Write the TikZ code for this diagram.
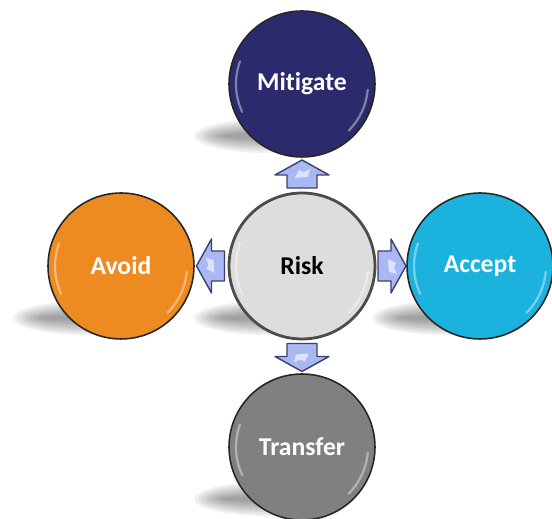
\documentclass[tikz,border=0pt]{standalone}
\usepackage{fontspec}
\setmainfont[Ligatures=NoCommon]{Carlito}
\usetikzlibrary{calc}

\definecolor{mitblue}{HTML}{2B2A6C}
\definecolor{avdorange}{HTML}{EE8A22}
\definecolor{accblue}{HTML}{1CB2DE}
\definecolor{trngray}{HTML}{808080}
\definecolor{riskgray}{HTML}{DDDDDD}
\definecolor{arrfill}{HTML}{A9B7F2}
\definecolor{arrline}{HTML}{3B4070}

\tikzset{
  ball/.style={circle,draw=black!85,line width=0.9pt,minimum size=2.92cm,
    inner sep=0pt,font=\fontsize{14.6}{17}\selectfont\bfseries,text=white},
  shine/.style={white,opacity=0.4,line width=1.3pt,line cap=round},
  blockarr/.pic={
    \draw[fill=arrfill,draw=arrline,line width=0.8pt,line join=round]
      (-13,-15) -- (0,-15) -- (0,-27) -- (15,0) -- (0,27) -- (0,15) -- (-13,15) -- cycle;
    \fill[white,opacity=0.6] (-3,-7) -- (5,-3) -- (3,2) -- (6,8) -- (-2,6) -- cycle;
  }
}

\begin{document}
\begin{tikzpicture}[x=0.02cm,y=-0.02cm]
    \useasboundingbox (0,0) rectangle (552,519);
    \coordinate (c-mit) at (302,84);
    \coordinate (c-avd) at (121,266);
    \coordinate (c-risk) at (302,266);
    \coordinate (c-acc) at (480,266);
    \coordinate (c-trn) at (302,447);

    % soft shadows below left
    \foreach \c in {c-mit,c-avd,c-risk,c-acc,c-trn}
      \foreach \k in {1,...,8}
        \fill[black,opacity=0.055] ($(\c)+(-34,52)$)
          ellipse [x radius={78-4*\k}, y radius={19-2*\k}];

    \node[ball,fill=mitblue] (mit) at (c-mit) {Mitigate};
    \node[ball,fill=avdorange] (avd) at (c-avd) {Avoid};
    \node[ball,fill=riskgray,text=black,draw=black!70,line width=1.6pt] (risk) at (c-risk) {Risk};
    \node[ball,fill=accblue] (acc) at (c-acc) {Accept};
    \node[ball,fill=trngray] (trn) at (c-trn) {Transfer};

    \foreach \n in {mit,avd,risk,acc,trn} {
      \draw[shine] ($(\n)+(155:66)$) arc (155:200:66);
      \draw[shine] ($(\n)+(5:66)$) arc (5:45:66);
    }

    \pic[rotate=90] at ($(risk)!0.5!(mit)$) {blockarr};
    \pic[rotate=180] at ($(risk)!0.5!(avd)$) {blockarr};
    \pic at ($(risk)!0.5!(acc)$) {blockarr};
    \pic[rotate=-90] at ($(risk)!0.5!(trn)$) {blockarr};
  \end{tikzpicture}
\end{document}
